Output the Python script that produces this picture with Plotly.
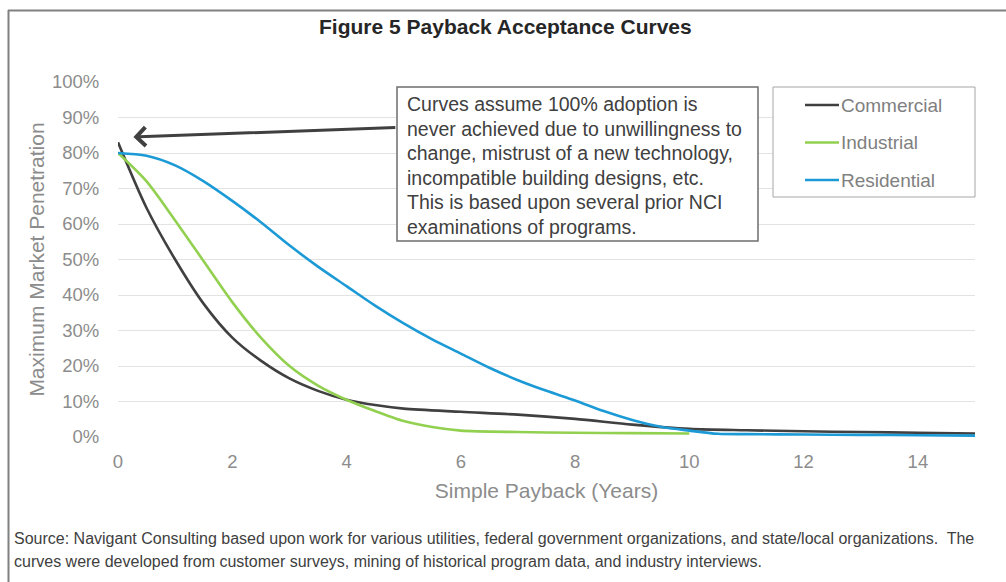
import plotly.graph_objects as go

# ---------------- data ----------------
series_names = ["Commercial", "Industrial", "Residential"]

commercial_x = [0, 0.5, 1, 1.5, 2, 2.5, 3, 3.5, 4, 4.5, 5, 6, 7, 8, 9, 10, 11, 12, 13, 14, 15]
commercial_y = [83, 64.5, 50, 37.5, 28, 21.5, 16.5, 13, 10.5, 9, 8, 7.1, 6.3, 5.1, 3.5, 2.3, 1.9, 1.6, 1.4, 1.2, 1.0]

industrial_x = [0, 0.5, 1, 1.5, 2, 2.5, 3, 3.5, 4, 4.5, 5, 5.5, 6, 7, 8, 9, 10]
industrial_y = [80, 72, 61, 49.5, 38, 28, 20, 14.5, 10.5, 7.3, 4.5, 2.8, 1.8, 1.4, 1.2, 1.1, 1.0]

residential_x = [0, 0.5, 1, 1.5, 2, 2.5, 3, 3.5, 4, 4.5, 5, 5.5, 6, 6.5, 7, 7.5, 8, 8.5, 9, 9.5, 10, 10.5, 11, 12, 13, 14, 15]
residential_y = [80, 79.2, 76.5, 72, 66.5, 60.5, 54, 48, 42.5, 37, 32, 27.5, 23.5, 19.5, 16, 13, 10.3, 7.3, 4.8, 2.9, 1.8, 0.9, 0.8, 0.7, 0.6, 0.5, 0.4]

x_ticks = [0, 2, 4, 6, 8, 10, 12, 14]
y_ticks = [0, 10, 20, 30, 40, 50, 60, 70, 80, 90, 100]
y_tick_labels = [f"{v}%" for v in y_ticks]

title_text = "Figure 5 Payback Acceptance Curves"
x_title = "Simple Payback (Years)"
y_title = "Maximum Market Penetration"
note_lines = [
    "Curves assume 100% adoption is",
    "never achieved due to unwillingness to",
    "change, mistrust of a new technology,",
    "incompatible building designs, etc.",
    "This is based upon several prior NCI",
    "examinations of programs.",
]
source_lines = [
    "Source: Navigant Consulting based upon work for various utilities, federal government organizations, and state/local organizations.  The",
    "curves were developed from customer surveys, mining of historical program data, and industry interviews.",
]

# ---------------- style ----------------
colors = ["#404040", "#92d050", "#1c9ad6"]
W, H = 1006, 582
L, R, T, B = 118, 31, 82, 145
PW, PH = W - L - R, H - T - B
FONT = "Liberation Sans, Arial, sans-serif"
GREY = "#8c8c8c"


def px(X):
    return (X - L) / PW


def py(Y):
    return (H - B - Y) / PH


fig = go.Figure()
for name, xs, ys, c in zip(series_names,
                           [commercial_x, industrial_x, residential_x],
                           [commercial_y, industrial_y, residential_y],
                           colors):
    fig.add_trace(go.Scatter(x=xs, y=ys, name=name, mode="lines",
                             line=dict(color=c, width=2.6, shape="spline", smoothing=0.8),
                             showlegend=False))

shapes = []
annotations = []

# outer frame (top and left lines)
shapes.append(dict(type="line", xref="paper", yref="paper", x0=px(8), x1=px(1010), y0=py(10.5), y1=py(10.5),
                   line=dict(color="#808080", width=2)))
shapes.append(dict(type="line", xref="paper", yref="paper", x0=px(8.5), x1=px(8.5), y0=py(10), y1=py(590),
                   line=dict(color="#808080", width=2)))

# note box
shapes.append(dict(type="rect", xref="paper", yref="paper", x0=px(397), x1=px(758), y0=py(87), y1=py(241),
                   line=dict(color="#6e6e6e", width=1.5), fillcolor="white", layer="above"))
for i, t in enumerate(note_lines):
    annotations.append(dict(xref="paper", yref="paper", x=px(405), y=py(104 + i * 24.6), text=t,
                            showarrow=False, xanchor="left", yanchor="middle",
                            font=dict(family=FONT, size=19.5, color="#404040")))

# arrow
annotations.append(dict(x=0.27, y=84.5, xref="x", yref="y", ax=4.88, ay=87.2, axref="x", ayref="y",
                        text="", showarrow=True, arrowhead=4, arrowsize=1.2, arrowwidth=3,
                        arrowcolor="#404040", standoff=0))

# legend box
shapes.append(dict(type="rect", xref="paper", yref="paper", x0=px(773), x1=px(975), y0=py(87), y1=py(197),
                   line=dict(color="#a6a6a6", width=1), fillcolor="white", layer="above"))
for i, (name, c) in enumerate(zip(series_names, colors)):
    yy = 105 + i * 37.5
    shapes.append(dict(type="line", xref="paper", yref="paper", x0=px(805), x1=px(839), y0=py(yy), y1=py(yy),
                       line=dict(color=c, width=2.6), layer="above"))
    annotations.append(dict(xref="paper", yref="paper", x=px(839), y=py(yy), text=name, showarrow=False,
                            xanchor="left", yanchor="middle",
                            font=dict(family=FONT, size=19, color="#808080")))

# title
annotations.append(dict(xref="paper", yref="paper", x=px(505), y=py(27), text=f"<b>{title_text}</b>",
                        showarrow=False, xanchor="center", yanchor="middle",
                        font=dict(family=FONT, size=21, color="#262626")))

# source
for i, t in enumerate(source_lines):
    annotations.append(dict(xref="paper", yref="paper", x=px(12), y=py(538 + i * 23), text=t,
                            showarrow=False, xanchor="left", yanchor="middle",
                            font=dict(family="Liberation Sans Narrow, Arial Narrow, sans-serif", size=16,
                                      color="#404040")))

fig.update_layout(
    width=W, height=H,
    margin=dict(l=L, r=R, t=T, b=B),
    paper_bgcolor="white", plot_bgcolor="white",
    font=dict(family=FONT, color=GREY),
    shapes=shapes, annotations=annotations,
    showlegend=False,
)
fig.update_xaxes(range=[0, 15], tickvals=x_ticks, showgrid=False, zeroline=False, showline=False,
                 ticks="outside", ticklen=8, tickcolor="rgba(0,0,0,0)",
                 tickfont=dict(size=18.5, color=GREY),
                 title=dict(text=x_title, font=dict(size=21, color=GREY), standoff=12))
fig.update_yaxes(range=[0, 100], tickvals=y_ticks, ticktext=y_tick_labels, showgrid=True,
                 gridcolor="#e3e3e3", gridwidth=1, zeroline=False, showline=False,
                 ticks="outside", ticklen=14, tickcolor="rgba(0,0,0,0)",
                 tickfont=dict(size=18.5, color=GREY),
                 title=dict(text=y_title, font=dict(size=21, color=GREY), standoff=1))

fig.write_html("out.html")
